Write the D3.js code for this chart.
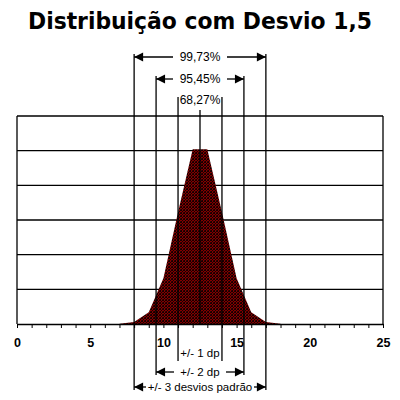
<!DOCTYPE html>
<html>
<head>
<meta charset="utf-8">
<script src="https://cdn.jsdelivr.net/npm/d3@7"></script>
<style>
  body { margin: 0; background: #fff; }
  svg { display: block; }
  text { font-family: "Liberation Sans", Arial, sans-serif; fill: #000; }
</style>
</head>
<body>
<svg id="chart" width="400" height="400"></svg>
<script>
// values
var xValues = [7, 8, 9, 10, 11, 12, 13, 14, 15, 16, 17, 18];
var density = [0.0003, 0.003, 0.017, 0.066, 0.161, 0.252, 0.252, 0.161, 0.066, 0.017, 0.003, 0.0003];
var xTicks = [0, 5, 10, 15, 20, 25];
var yGrid = [0.05, 0.10, 0.15, 0.20, 0.25, 0.30];
var mean = 12.5, sd = 1.5;
var topLabels = ["68,27%", "95,45%", "99,73%"];
var bottomLabels = ["+/- 1 dp", "+/- 2 dp", "+/- 3 desvios padrão"];

var svg = d3.select("#chart");

var x = d3.scaleLinear().domain([0, 25]).range([17, 383]),
    y = d3.scaleLinear().domain([0, 0.3]).range([324, 116]);

// dithered dark red fill
var pat = svg.append("defs").append("pattern")
    .attr("id", "dither")
    .attr("patternUnits", "userSpaceOnUse")
    .attr("width", 3).attr("height", 3);
pat.append("rect").attr("width", 3).attr("height", 3).attr("fill", "#800000");
[[0, 0], [2, 1], [1, 2], [1, 0]].forEach(function(p) {
  pat.append("rect").attr("x", p[0]).attr("y", p[1]).attr("width", 1).attr("height", 1).attr("fill", "#160000");
});
pat.append("rect").attr("x", 0).attr("y", 2).attr("width", 1).attr("height", 1).attr("fill", "#3a0000");

// title
svg.append("text")
    .attr("x", 200).attr("y", 29)
    .attr("text-anchor", "middle")
    .attr("textLength", 344).attr("lengthAdjust", "spacingAndGlyphs")
    .style("font-family", "'DejaVu Sans', sans-serif")
    .style("font-weight", "bold")
    .style("font-size", "23px")
    .text("Distribuição com Desvio 1,5");

// grid box
var grid = svg.append("g").attr("stroke", "#000").attr("stroke-width", 1.3);
grid.selectAll("line.h")
  .data(yGrid)
  .enter().append("line")
    .attr("class", "h")
    .attr("x1", x(0)).attr("x2", x(25))
    .attr("y1", function(d) { return y(d); })
    .attr("y2", function(d) { return y(d); });
grid.selectAll("line.v")
  .data([0, 25])
  .enter().append("line")
    .attr("class", "v")
    .attr("x1", function(d) { return x(d); })
    .attr("x2", function(d) { return x(d); })
    .attr("y1", y(0.3)).attr("y2", y(0));

// distribution polygon
var data = xValues.map(function(v, i) { return {x: v, y: density[i]}; });
var area = d3.area()
    .x(function(d) { return x(d.x); })
    .y0(y(0))
    .y1(function(d) { return y(d.y); });
svg.append("path")
    .datum(data)
    .attr("d", area)
    .attr("fill", "url(#dither)");

// x axis
var axis = svg.append("g")
    .attr("transform", "translate(0," + y(0) + ")")
    .call(d3.axisBottom(x)
      .tickValues(d3.range(0, 26))
      .tickSize(4).tickSizeOuter(0).tickPadding(10)
      .tickFormat(function(d) { return xTicks.indexOf(d) >= 0 ? d : ""; }));
axis.select(".domain").attr("stroke-width", 1.3);
axis.selectAll(".tick line").attr("stroke-width", 1);
axis.selectAll("text")
    .style("font-family", "'Liberation Sans', Arial, sans-serif")
    .style("font-size", "12.5px")
    .style("font-weight", "bold");

// sigma lines
var lineTop = {0: 110, 1: 97, 2: 76, 3: 54},
    lineBot = {0: 324, 1: 361, 2: 375, 3: 390};
var ann = svg.append("g").attr("stroke", "#000").attr("stroke-width", 1.3);
ann.append("line")
    .attr("x1", x(mean)).attr("x2", x(mean))
    .attr("y1", lineTop[0]).attr("y2", lineBot[0]);
[1, 2, 3].forEach(function(k) {
  [-1, 1].forEach(function(s) {
    var xv = x(mean + s * k * sd);
    ann.append("line")
      .attr("x1", xv).attr("x2", xv)
      .attr("y1", lineTop[k]).attr("y2", lineBot[k]);
  });
});

function arrowRow(yPos, k, label, size, gapL, gapR) {
  var xl = x(mean - k * sd), xr = x(mean + k * sd);
  svg.append("text")
      .attr("x", x(mean)).attr("y", yPos + 4)
      .attr("text-anchor", "middle")
      .style("font-size", size + "px")
      .text(label);
  if (gapL == null) return;
  ann.append("line").attr("x1", xl).attr("x2", gapL).attr("y1", yPos).attr("y2", yPos);
  ann.append("line").attr("x1", gapR).attr("x2", xr).attr("y1", yPos).attr("y2", yPos);
  svg.append("path")
      .attr("d", "M" + xl + "," + yPos + "l9,-4.5v9z")
      .attr("fill", "#000");
  svg.append("path")
      .attr("d", "M" + xr + "," + yPos + "l-9,-4.5v9z")
      .attr("fill", "#000");
}

arrowRow(100, 1, topLabels[0], 12);
arrowRow(79, 2, topLabels[1], 12, 173, 227);
arrowRow(57, 3, topLabels[2], 12, 173, 227);
arrowRow(353, 1, bottomLabels[0], 11.5);
arrowRow(372, 2, bottomLabels[1], 11.5, 174, 226);
arrowRow(387, 3, bottomLabels[2], 11.5, 146, 254);
</script>
</body>
</html>
